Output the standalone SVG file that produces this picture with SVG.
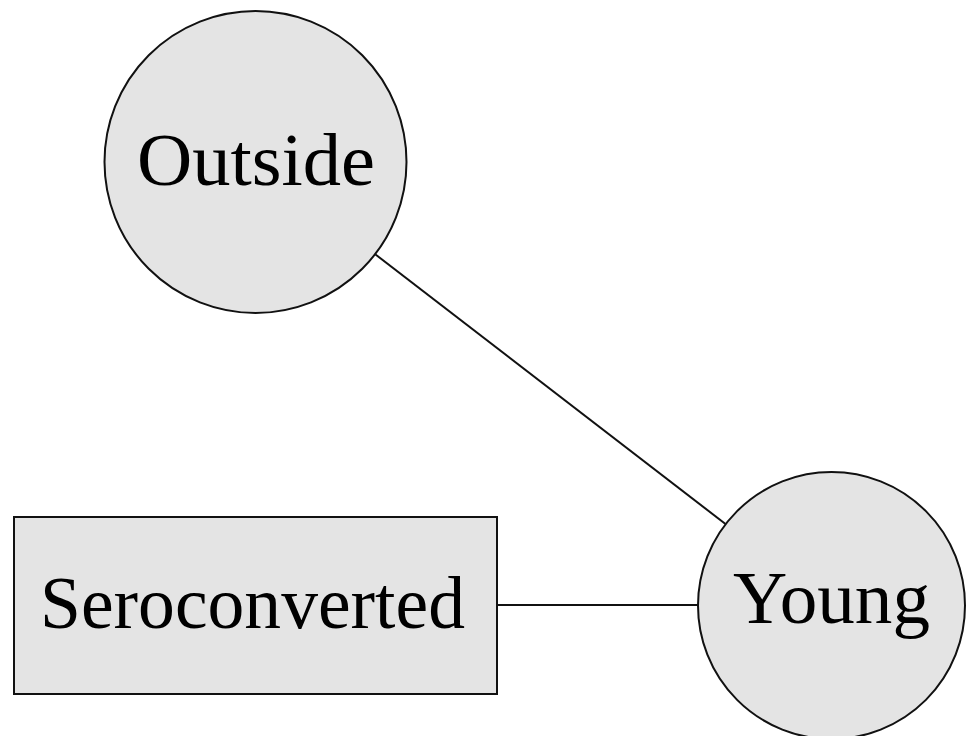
<svg xmlns="http://www.w3.org/2000/svg" width="969" height="736" viewBox="0 0 969 736">
  <style>
    .node { fill: #e4e4e4; stroke: #111; stroke-width: 2; }
    .edge { stroke: #111; stroke-width: 2; fill: none; }
    .label { font-family: "Liberation Serif", "DejaVu Serif", serif; font-size: 74px; fill: #000; text-anchor: middle; }
  </style>
  <rect width="969" height="736" fill="#fff"/>
  <g id="connectors">
    <line class="edge" x1="375.5" y1="254.5" x2="725.5" y2="524"/>
    <line class="edge" x1="497" y1="605" x2="698" y2="605"/>
  </g>
  <g id="outside">
    <circle class="node" cx="255.5" cy="162" r="151"/>
    <text class="label" x="256" y="185" textLength="238" lengthAdjust="spacingAndGlyphs">Outside</text>
  </g>
  <g id="young">
    <circle class="node" cx="831.5" cy="605.5" r="133.5"/>
    <text class="label" x="831.5" y="623" textLength="197" lengthAdjust="spacingAndGlyphs">Young</text>
  </g>
  <g id="seroconverted">
    <rect class="node" x="14" y="517" width="483" height="177"/>
    <text class="label" x="252.5" y="628" textLength="425" lengthAdjust="spacingAndGlyphs">Seroconverted</text>
  </g>
</svg>
